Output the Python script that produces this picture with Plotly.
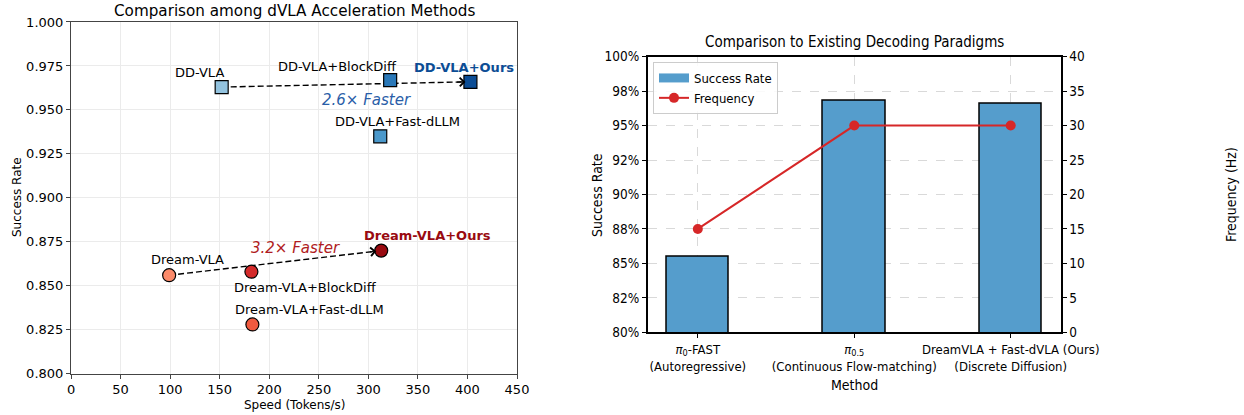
import plotly.graph_objects as go

# ---- Left panel: speed vs. success rate of dVLA acceleration methods ----
dd_names = ["DD-VLA", "DD-VLA+BlockDiff", "DD-VLA+Fast-dLLM", "DD-VLA+Ours"]
dd_speed = [152, 322, 312, 403]
dd_success = [0.963, 0.967, 0.935, 0.966]

dream_names = ["Dream-VLA", "Dream-VLA+BlockDiff", "Dream-VLA+Fast-dLLM", "Dream-VLA+Ours"]
dream_speed = [99, 182, 183, 313]
dream_success = [0.856, 0.858, 0.828, 0.870]

dd_speedup_label = "2.6× Faster"
dream_speedup_label = "3.2× Faster"

# ---- Right panel: comparison to existing decoding paradigms ----
methods = [
    "<i>π</i><sub>0</sub>-FAST<br>(Autoregressive)",
    "<i>π</i><sub>0.5</sub><br>(Continuous Flow-matching)",
    "DreamVLA + Fast-dVLA (Ours)<br>(Discrete Diffusion)",
]
success_pct = [85.5, 96.8, 96.6]
frequency_hz = [15, 30, 30]
pct_ticks = [80, 82.5, 85, 87.5, 90, 92.5, 95, 97.5, 100]
pct_ticktext = ["80%", "82%", "85%", "88%", "90%", "92%", "95%", "98%", "100%"]

# styles
dd_colors = ["#93c3df", "#2a78b8", "#4a98cb", "#0c4d95"]
dream_colors = ["#fb8a6a", "#d42a2a", "#f05a3f", "#990a10"]
dd_label_shift = [(-22, 15), (-53, 14), (17, 15), (-6, 14)]
dream_label_shift = [(18, 16), (54, -16), (57, 15), (46, 15)]
BAR_COLOR = "#559dcc"
LINE_COLOR = "#d62728"
FONT = "DejaVu Sans"
FONT_R = "DejaVu Sans Condensed, DejaVu Sans"

fig = go.Figure()

# dashed speed-up arrows (drawn under markers)
for xs, ys in ((dd_speed, dd_success), (dream_speed, dream_success)):
    fig.add_trace(go.Scatter(
        x=[xs[0], xs[-1]], y=[ys[0], ys[-1]], mode="lines",
        line=dict(color="black", width=1.4, dash="6px,3px"),
        hoverinfo="skip", showlegend=False, xaxis="x", yaxis="y"))

for i, name in enumerate(dd_names):
    fig.add_trace(go.Scatter(
        x=[dd_speed[i]], y=[dd_success[i]], mode="markers", name=name,
        marker=dict(symbol="square", size=13, color=dd_colors[i],
                    line=dict(color="black", width=1.2)),
        showlegend=False, xaxis="x", yaxis="y"))
for i, name in enumerate(dream_names):
    fig.add_trace(go.Scatter(
        x=[dream_speed[i]], y=[dream_success[i]], mode="markers", name=name,
        marker=dict(symbol="circle", size=13, color=dream_colors[i],
                    line=dict(color="black", width=1.2)),
        showlegend=False, xaxis="x", yaxis="y"))

# bars + frequency line
fig.add_trace(go.Bar(
    x=[0, 1, 2], y=success_pct, width=0.4, name="Success Rate",
    marker=dict(color=BAR_COLOR, line=dict(color="black", width=1.5)),
    showlegend=False, xaxis="x2", yaxis="y2"))
# wide patch-style legend key for the bars
fig.add_trace(go.Scatter(
    x=[None], y=[None], mode="lines", name="Success Rate",
    line=dict(color=BAR_COLOR, width=9), xaxis="x2", yaxis="y2"))
fig.add_trace(go.Scatter(
    x=[0, 1, 2], y=frequency_hz, mode="lines+markers", name="Frequency",
    line=dict(color=LINE_COLOR, width=2), marker=dict(size=10, color=LINE_COLOR),
    xaxis="x2", yaxis="y3"))

annotations = []

# point labels
for names, xs, ys, shifts, base in ((dd_names, dd_speed, dd_success, dd_label_shift, dd_colors),
                                    (dream_names, dream_speed, dream_success, dream_label_shift, dream_colors)):
    for i, name in enumerate(names):
        last = i == len(names) - 1
        annotations.append(dict(
            x=xs[i], y=ys[i], xref="x", yref="y", showarrow=False,
            xanchor="center", yanchor="middle",
            text=f"<b>{name}</b>" if last else name,
            xshift=shifts[i][0], yshift=shifts[i][1],
            font=dict(family=FONT, size=13, color=base[i] if last else "black")))

# arrow heads and speed-up labels
for xs, ys, label, color, sh in ((dd_speed, dd_success, dd_speedup_label, "#2a5ea8", (20, -16)),
                                 (dream_speed, dream_success, dream_speedup_label, "#b01c22", (20, 15))):
    x0, y0, x1, y1 = xs[0], ys[0], xs[-1], ys[-1]
    annotations.append(dict(
        x=x1, y=y1, ax=x1 - 0.06 * (x1 - x0), ay=y1 - 0.06 * (y1 - y0),
        xref="x", yref="y", axref="x", ayref="y", text="", showarrow=True,
        arrowhead=4, arrowsize=1.4, arrowwidth=1.2, arrowcolor="black", standoff=5))
    annotations.append(dict(
        x=(x0 + x1) / 2, y=(y0 + y1) / 2, xref="x", yref="y", showarrow=False,
        xanchor="center", yanchor="middle",
        text=f"<i>{label}</i>", xshift=sh[0], yshift=sh[1],
        font=dict(family=FONT, size=15, color=color)))


def paper_text(px, py, text, family, size, angle=0):
    return dict(x=px / 1244, y=1 - py / 415, xref="paper", yref="paper",
                xanchor="center", yanchor="middle", showarrow=False,
                text=text, textangle=angle,
                font=dict(family=family, size=size, color="black"))


# titles and axis labels
annotations += [
    paper_text(294, 11, "Comparison among dVLA Acceleration Methods", FONT, 15.2),
    paper_text(294, 405, "Speed (Tokens/s)", FONT, 12),
    paper_text(17, 197, "Success Rate", FONT, 12, -90),
    paper_text(854, 42, "Comparison to Existing Decoding Paradigms", FONT_R, 15),
    paper_text(854, 385, "Method", FONT_R, 14),
    paper_text(597, 195, "Success Rate", FONT_R, 14, -90),
    paper_text(1231, 195, "Frequency (Hz)", FONT_R, 14, -90),
]

left_axis = dict(showline=True, mirror=True, linecolor="#444", linewidth=1.2,
                 ticks="outside", ticklen=4, tickcolor="#444", zeroline=False,
                 showgrid=True, gridcolor="#ebebeb", gridwidth=1, automargin=False,
                 tickfont=dict(family=FONT, size=13, color="black"))
right_axis = dict(showline=True, linecolor="black", linewidth=1.5, automargin=False,
                  ticks="outside", ticklen=4, tickcolor="black", zeroline=False,
                  showgrid=True, gridcolor="#d9d9d9", griddash="dash", gridwidth=0.8,
                  tickfont=dict(family=FONT_R, size=13.5, color="black"))

fig.update_layout(
    width=1244, height=415, margin=dict(l=0, r=0, t=0, b=0, autoexpand=False),
    paper_bgcolor="white", plot_bgcolor="white", bargap=0,
    xaxis=dict(left_axis, domain=[0.0571, 0.4156], range=[0, 450], dtick=50,
               anchor="y"),
    yaxis=dict(left_axis, domain=[0.0995, 0.947], range=[0.8, 1.0], dtick=0.025,
               tickformat=".3f", anchor="x"),
    xaxis2=dict(right_axis, domain=[0.5207, 0.8527], range=[-0.32, 2.32], tickangle=0,
                tickvals=[0, 1, 2], ticktext=methods, mirror=True, anchor="y2",
                tickfont=dict(family=FONT_R, size=13, color="black")),
    yaxis2=dict(right_axis, domain=[0.1993, 0.8634], range=[80, 100],
                tickvals=pct_ticks, ticktext=pct_ticktext, anchor="x2"),
    yaxis3=dict(right_axis, overlaying="y2", side="right", range=[0, 40], dtick=5,
                anchor="x2", showgrid=False),
    legend=dict(x=653 / 1244, y=1 - 62 / 415, xanchor="left", yanchor="top",
                bgcolor="rgba(255,255,255,0.85)", bordercolor="#cccccc", borderwidth=1,
                font=dict(family=FONT_R, size=13, color="black"), tracegroupgap=0,
                itemwidth=30),
    annotations=annotations,
    showlegend=True,
)

fig.write_html("out.html")
